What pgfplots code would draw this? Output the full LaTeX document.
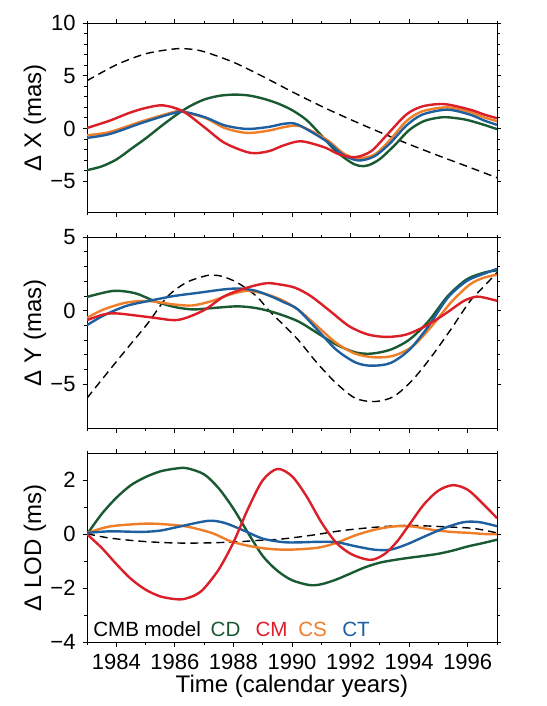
\documentclass[border=0pt]{standalone}
\usepackage{fontspec}
\setmainfont{Liberation Sans}
\usepackage{pgfplots}
\pgfplotsset{compat=1.18}
\definecolor{colCD}{RGB}{25,90,50}
\definecolor{colCM}{RGB}{220,30,40}
\definecolor{colCS}{RGB}{240,125,40}
\definecolor{colCT}{RGB}{30,95,160}
\pgfplotsset{
  panel/.style={
    scale only axis, width=205pt,
    xmin=1983, xmax=1997,
    xtick={1984,1986,...,1996},
    minor xtick={1983,1985,...,1997},
    tick align=outside, xtick pos=both, ytick pos=both,
    xticklabel pos=lower, yticklabel pos=left,
    major tick length=2.2pt, minor tick length=1.3pt,
    axis line style={line width=0.5pt},
    every tick/.style={black, line width=0.5pt},
    tick label style={font=\fontsize{11}{12}\selectfont},
    every axis y label/.style={at={(axis description cs:-0.127,0.5)}, rotate=90, anchor=center, font=\fontsize{12}{14}\selectfont},
    every axis x label/.style={at={(axis description cs:0.5,-0.268)}, anchor=base, font=\fontsize{12}{14}\selectfont},
    clip=true,
  },
  dsh/.style={black, line width=0.7pt, dash pattern=on 4pt off 2.5pt, smooth, no marks},
  cur/.style={line width=1.2pt, smooth, no marks},
}
\begin{document}
\begin{tikzpicture}
\path[use as bounding box] (0,0) rectangle (273pt,353pt);
% ---------------- Panel 1: Delta X
\begin{axis}[panel, at={(43.5pt,246.65pt)}, anchor=south west, height=94.7pt,
  ymin=-8, ymax=10, ytick={-5,0,5,10}, yticklabels={−5,0,5,10}, minor y tick num=4,
  xticklabels={}, ylabel={Δ X (mas)}]
\addplot[dsh] coordinates {(1983.0,4.54) (1984.0,6.05) (1985.0,7.1) (1986.0,7.57) (1986.5,7.55) (1987.0,7.3) (1988.0,6.3) (1989.0,4.95) (1990.0,3.5) (1991.0,2.12) (1992.0,0.85) (1993.0,-0.35) (1994.0,-1.5) (1995.0,-2.58) (1996.0,-3.62) (1997.0,-4.68)};
\addplot[cur, colCD] coordinates {(1983.0,-3.96) (1983.5,-3.6) (1984.0,-2.95) (1984.5,-1.95) (1985.0,-0.95) (1985.5,0.15) (1986.0,1.2) (1986.5,2.1) (1987.0,2.75) (1987.5,3.1) (1988.0,3.22) (1988.5,3.15) (1989.0,2.85) (1989.5,2.4) (1990.0,1.75) (1990.5,0.8) (1991.0,-0.65) (1991.5,-2.15) (1992.0,-3.2) (1992.3,-3.55) (1992.6,-3.5) (1993.0,-2.9) (1993.5,-1.6) (1994.0,-0.15) (1994.5,0.7) (1995.0,1.03) (1995.3,1.07) (1995.7,0.95) (1996.0,0.8) (1996.5,0.4) (1997.0,-0.06)};
\addplot[cur, colCS] coordinates {(1983.0,-0.64) (1983.78,-0.33) (1984.87,0.68) (1985.96,1.57) (1986.2,1.63) (1987.04,1.0) (1987.7,0.05) (1988.46,-0.42) (1989.2,-0.2) (1989.8,0.17) (1990.3,0.21) (1991.18,-1.05) (1991.73,-2.31) (1992.2,-2.85) (1992.82,-2.47) (1993.36,-1.05) (1993.9,0.69) (1994.45,1.63) (1995.3,2.01) (1996.08,1.57) (1996.57,1.05) (1997.0,0.7)};
\addplot[cur, colCT] coordinates {(1983.0,-0.89) (1983.78,-0.52) (1984.87,0.53) (1985.96,1.47) (1986.34,1.57) (1987.04,1.06) (1987.7,0.3) (1988.46,-0.04) (1989.2,0.15) (1989.75,0.46) (1990.2,0.37) (1991.18,-1.21) (1991.73,-2.47) (1992.27,-3.04) (1992.82,-2.63) (1993.36,-1.37) (1993.9,0.27) (1994.45,1.32) (1995.3,1.79) (1996.08,1.32) (1996.57,0.75) (1997.0,0.35)};
\addplot[cur, colCM] coordinates {(1983.0,0.05) (1983.78,0.75) (1984.43,1.47) (1985.0,1.95) (1985.6,2.2) (1986.28,1.63) (1987.04,0.05) (1987.7,-1.37) (1988.57,-2.31) (1989.2,-2.16) (1989.7,-1.62) (1990.3,-1.21) (1991.1,-1.78) (1991.62,-2.47) (1992.16,-2.72) (1992.7,-2.16) (1993.25,-0.58) (1993.9,1.32) (1994.45,2.1) (1995.2,2.32) (1996.08,1.79) (1996.57,1.32) (1997.0,0.98)};
\end{axis}
% ---------------- Panel 2: Delta Y
\begin{axis}[panel, at={(43.5pt,138.85pt)}, anchor=south west, height=95.5pt,
  ymin=-8, ymax=5, ytick={-5,0,5}, yticklabels={−5,0,5}, minor y tick num=4,
  xticklabels={}, ylabel={Δ Y (mas)}]
\addplot[dsh] coordinates {(1983.0,-5.95) (1983.78,-4.01) (1984.43,-2.42) (1985.09,-0.82) (1985.74,0.95) (1986.39,1.92) (1987.04,2.37) (1987.3,2.42) (1987.6,2.35) (1988.13,1.92) (1988.78,1.0) (1989.22,0.0) (1989.6,-0.75) (1990.2,-1.96) (1990.86,-3.56) (1991.51,-4.93) (1992.16,-5.95) (1992.82,-6.18) (1993.47,-5.84) (1994.12,-4.7) (1994.77,-3.1) (1995.42,-1.28) (1996.08,0.66) (1996.57,1.69) (1997.0,2.6)};
\addplot[cur, colCD] coordinates {(1983.0,0.94) (1983.9,1.35) (1984.65,1.19) (1985.3,0.66) (1985.96,0.27) (1986.6,0.09) (1987.26,0.18) (1988.13,0.3) (1988.78,0.18) (1989.43,-0.14) (1990.2,-0.71) (1990.86,-1.51) (1991.51,-2.3) (1992.16,-2.83) (1992.7,-2.92) (1993.36,-2.65) (1994.01,-1.96) (1994.66,-0.71) (1995.32,1.0) (1995.97,2.14) (1996.57,2.6) (1997.0,2.75)};
\addplot[cur, colCS] coordinates {(1983.0,-0.48) (1983.57,0.09) (1984.33,0.55) (1985.09,0.66) (1985.96,0.43) (1986.6,0.36) (1987.26,0.66) (1987.91,1.12) (1988.46,1.35) (1989.0,1.19) (1989.6,0.78) (1990.2,0.09) (1990.86,-1.05) (1991.51,-2.19) (1992.16,-2.92) (1992.82,-3.17) (1993.47,-3.06) (1994.12,-2.42) (1994.77,-1.05) (1995.42,0.55) (1996.08,1.8) (1996.57,2.26) (1997.0,2.45)};
\addplot[cur, colCT] coordinates {(1983.0,-0.98) (1983.57,-0.32) (1984.33,0.32) (1985.09,0.66) (1985.96,1.0) (1986.83,1.23) (1987.7,1.46) (1988.24,1.51) (1988.78,1.35) (1989.33,0.94) (1989.7,0.6) (1990.2,0.09) (1990.86,-1.28) (1991.51,-2.65) (1992.16,-3.51) (1992.7,-3.74) (1993.36,-3.56) (1994.01,-2.65) (1994.66,-1.05) (1995.32,0.89) (1995.97,2.03) (1996.57,2.53) (1997.0,2.85)};
\addplot[cur, colCM] coordinates {(1983.0,-0.64) (1983.57,-0.25) (1984.0,-0.18) (1984.65,-0.32) (1985.3,-0.48) (1985.96,-0.64) (1986.39,-0.48) (1987.04,0.09) (1987.7,1.0) (1988.46,1.57) (1989.11,1.87) (1989.55,1.8) (1990.1,1.57) (1990.64,1.0) (1991.3,-0.02) (1991.95,-1.05) (1992.6,-1.62) (1993.25,-1.78) (1993.9,-1.62) (1994.55,-1.05) (1995.2,-0.25) (1995.86,0.66) (1996.29,0.96) (1996.57,0.89) (1997.0,0.68)};
\end{axis}
% ---------------- Panel 3: Delta LOD
\begin{axis}[panel, at={(43.5pt,31.85pt)}, anchor=south west, height=94.5pt,
  ymin=-4, ymax=3, ytick={-4,-2,0,2}, yticklabels={−4,−2,0,2}, minor y tick num=1,
  xticklabels={1984,1986,1988,1990,1992,1994,1996},
  ylabel={Δ LOD (ms)}, xlabel={Time (calendar years)}]
\addplot[dsh] coordinates {(1983.0,0.02) (1983.78,-0.14) (1984.87,-0.26) (1985.96,-0.32) (1987.04,-0.32) (1988.13,-0.28) (1988.78,-0.23) (1989.6,-0.18) (1990.64,-0.04) (1991.73,0.14) (1992.82,0.26) (1993.9,0.33) (1994.99,0.29) (1996.08,0.23) (1996.57,0.15) (1997.0,0.05)};
\addplot[cur, colCD] coordinates {(1983.0,0.0) (1983.5,0.75) (1984.0,1.35) (1984.5,1.82) (1985.0,2.12) (1985.5,2.33) (1986.0,2.43) (1986.4,2.45) (1987.0,2.22) (1987.5,1.7) (1988.0,0.95) (1988.5,0.05) (1989.0,-0.8) (1989.5,-1.35) (1990.0,-1.7) (1990.6,-1.88) (1991.0,-1.85) (1991.5,-1.68) (1992.0,-1.45) (1992.5,-1.22) (1993.0,-1.05) (1993.5,-0.95) (1994.0,-0.87) (1994.5,-0.8) (1995.0,-0.72) (1995.5,-0.6) (1996.0,-0.45) (1996.5,-0.33) (1997.0,-0.2)};
\addplot[cur, colCS] coordinates {(1983.0,0.05) (1983.78,0.29) (1984.87,0.39) (1985.52,0.38) (1986.39,0.29) (1987.26,0.05) (1987.91,-0.26) (1988.57,-0.44) (1989.22,-0.54) (1989.9,-0.57) (1990.86,-0.5) (1991.51,-0.32) (1992.16,-0.04) (1992.82,0.17) (1993.47,0.29) (1994.12,0.29) (1994.77,0.17) (1995.42,0.09) (1996.08,0.05) (1996.57,0.01) (1997.0,0.0)};
\addplot[cur, colCT] coordinates {(1983.0,0.05) (1983.78,0.11) (1984.87,0.09) (1985.52,0.14) (1986.17,0.29) (1987.15,0.5) (1987.7,0.42) (1988.35,0.14) (1989.0,-0.16) (1989.7,-0.29) (1990.2,-0.3) (1990.86,-0.28) (1991.51,-0.29) (1992.16,-0.44) (1992.82,-0.57) (1993.36,-0.57) (1993.9,-0.38) (1994.55,-0.07) (1995.2,0.23) (1995.86,0.45) (1996.4,0.45) (1997.0,0.3)};
\addplot[cur, colCM] coordinates {(1983.0,0.0) (1983.5,-0.5) (1984.0,-1.1) (1984.5,-1.65) (1985.0,-2.05) (1985.5,-2.3) (1986.0,-2.4) (1986.3,-2.4) (1986.7,-2.25) (1987.0,-2.0) (1987.5,-1.3) (1988.0,-0.3) (1988.5,0.95) (1989.0,2.0) (1989.5,2.42) (1990.0,2.15) (1990.5,1.4) (1991.0,0.45) (1991.5,-0.3) (1992.0,-0.72) (1992.5,-0.92) (1992.8,-0.93) (1993.2,-0.7) (1993.6,-0.25) (1994.0,0.35) (1994.5,1.1) (1995.0,1.62) (1995.5,1.82) (1996.0,1.65) (1996.5,1.15) (1997.0,0.6)};
\node[anchor=base west, font=\fontsize{10.3}{12}\selectfont, inner sep=0pt] at (axis cs:1983.2,-3.8)
  {CMB model\hspace{4.9pt}\textcolor{colCD}{CD}\hspace{7.6pt}\textcolor{colCM}{CM}\hspace{5.3pt}\textcolor{colCS}{CS}\hspace{7.7pt}\textcolor{colCT}{CT}};
\end{axis}
\end{tikzpicture}
\end{document}
